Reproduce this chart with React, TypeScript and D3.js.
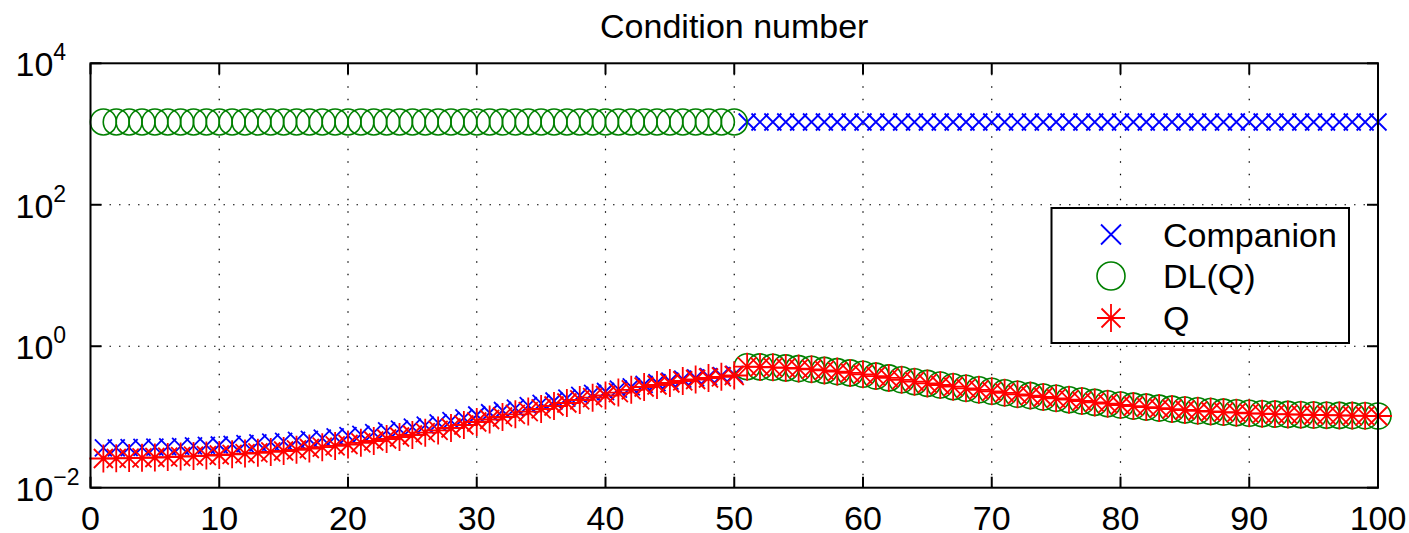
import React from 'react';
import * as d3 from 'd3';

// ---------- data ----------
const title = 'Condition number';
const seriesNames = ['Companion', 'DL(Q)', 'Q'];
const xTicks = [0, 10, 20, 30, 40, 50, 60, 70, 80, 90, 100];
const yTicks = [1e-2, 1e0, 1e2, 1e4];
const yTickExponents = ['\u22122', '0', '2', '4'];

// Companion condition number (k = 1..100)
const companion = [
  0.03644, 0.03668, 0.0369, 0.03706, 0.03742, 0.03776, 0.03839, 0.03888, 0.03952, 0.04015,
  0.04108, 0.04187, 0.04297, 0.0441, 0.04525, 0.0467, 0.04837, 0.05028, 0.05225, 0.05428,
  0.05693, 0.06015, 0.0637, 0.06756, 0.07172, 0.07668, 0.08233, 0.08867, 0.09702, 0.1066,
  0.1147, 0.1234, 0.1336, 0.1447, 0.1556, 0.1682, 0.1844, 0.2016, 0.2154, 0.2291,
  0.2476, 0.2663, 0.2891, 0.3057, 0.3223, 0.342, 0.3556, 0.3716, 0.3845, 0.3984,
  1480, 1480, 1480, 1480, 1480, 1480, 1480, 1480, 1480, 1480,
  1480, 1480, 1480, 1480, 1480, 1480, 1480, 1480, 1480, 1480,
  1480, 1480, 1480, 1480, 1480, 1480, 1480, 1480, 1480, 1480,
  1480, 1480, 1480, 1480, 1480, 1480, 1480, 1480, 1480, 1480,
  1480, 1480, 1480, 1480, 1480, 1480, 1480, 1480, 1480, 1480,
];

// DL(Q) condition number (k = 1..100)
const dlq = [
  1480, 1480, 1480, 1480, 1480, 1480, 1480, 1480, 1480, 1480,
  1480, 1480, 1480, 1480, 1480, 1480, 1480, 1480, 1480, 1480,
  1480, 1480, 1480, 1480, 1480, 1480, 1480, 1480, 1480, 1480,
  1480, 1480, 1480, 1480, 1480, 1480, 1480, 1480, 1480, 1480,
  1480, 1480, 1480, 1480, 1480, 1480, 1480, 1480, 1480, 1480,
  0.5137, 0.5104, 0.5039, 0.4941, 0.483, 0.4721, 0.4554, 0.4381, 0.4199, 0.4012,
  0.3783, 0.3567, 0.3352, 0.3152, 0.2982, 0.2831, 0.2679, 0.2542, 0.2421, 0.2306,
  0.2196, 0.2091, 0.2004, 0.1915, 0.1837, 0.1754, 0.1681, 0.1607, 0.154, 0.1476,
  0.1424, 0.1379, 0.1335, 0.1292, 0.1255, 0.1223, 0.1195, 0.1172, 0.1149, 0.1127,
  0.1112, 0.1098, 0.1087, 0.1077, 0.1066, 0.1059, 0.1052, 0.1046, 0.1039, 0.1032,
];

// Q condition number (k = 1..100)
const q = [
  0.02588, 0.02605, 0.02621, 0.02647, 0.02673, 0.02707, 0.02752, 0.02797, 0.02843, 0.02899,
  0.02966, 0.03034, 0.03114, 0.03207, 0.03303, 0.03434, 0.03583, 0.03738, 0.03899, 0.04081,
  0.04313, 0.04574, 0.04881, 0.05209, 0.0556, 0.05991, 0.06457, 0.06982, 0.077, 0.0849,
  0.0921, 0.09991, 0.1091, 0.1191, 0.1297, 0.1429, 0.1576, 0.1738, 0.1873, 0.2011,
  0.2211, 0.2421, 0.2652, 0.2831, 0.3021, 0.3226, 0.3387, 0.3556, 0.3697, 0.3857,
  0.5137, 0.5104, 0.5039, 0.4941, 0.483, 0.4721, 0.4554, 0.4381, 0.4199, 0.4012,
  0.3783, 0.3567, 0.3352, 0.3152, 0.2982, 0.2831, 0.2679, 0.2542, 0.2421, 0.2306,
  0.2196, 0.2091, 0.2004, 0.1915, 0.1837, 0.1754, 0.1681, 0.1607, 0.154, 0.1476,
  0.1424, 0.1379, 0.1335, 0.1292, 0.1255, 0.1223, 0.1195, 0.1172, 0.1149, 0.1127,
  0.1112, 0.1098, 0.1087, 0.1077, 0.1066, 0.1059, 0.1052, 0.1046, 0.1039, 0.1032,
];

// ---------- layout ----------
const W = 1409;
const H = 533;
const M = { left: 90.5, right: 1378, top: 63.3, bottom: 487.7 };
const FONT = '"Liberation Sans", Arial, Helvetica, sans-serif';
const FS = 34;
const BLUE = '#0000ff';
const GREEN = '#008000';
const RED = '#ff0000';

const xScale = d3.scaleLinear().domain([0, 100]).range([M.left, M.right]);
const yScale = d3.scaleLog().domain([1e-2, 1e4]).range([M.bottom, M.top]);

const XS = 8.5; // half-size of x marker
const CR = 13; // circle radius
const SP = 14; // star plus arm
const SD = 9.5; // star diagonal arm

function xPath(x: number, y: number, s = XS) {
  return `M${x - s},${y - s}L${x + s},${y + s}M${x - s},${y + s}L${x + s},${y - s}`;
}
function starPath(x: number, y: number) {
  return (
    `M${x - SP},${y}L${x + SP},${y}M${x},${y - SP}L${x},${y + SP}` +
    `M${x - SD},${y - SD}L${x + SD},${y + SD}M${x - SD},${y + SD}L${x + SD},${y - SD}`
  );
}

export default function App() {
  const idx = d3.range(1, companion.length + 1);
  const legend = { x0: 1051.5, y0: 208, x1: 1349, y1: 343 };
  const legendRows = [234.5, 276, 318];
  const legendMarkerX = 1111;
  const legendTextX = 1163;

  return (
    <svg
      width={W}
      height={H}
      style={{ position: 'absolute', left: 0, top: 0, background: '#fff' }}
      fontFamily={FONT}
    >
      <rect x={0} y={0} width={W} height={H} fill="#fff" />
      {/* grid */}
      <g stroke="#000" strokeWidth={1.2} fill="none">
        {xTicks.slice(1, -1).map((t) => (
          <line
            key={'gx' + t}
            x1={xScale(t)}
            x2={xScale(t)}
            y1={M.bottom}
            y2={M.top}
            strokeDasharray="1.5 11"
          />
        ))}
        {yTicks.slice(1, -1).map((t) => (
          <line
            key={'gy' + t}
            x1={M.left}
            x2={M.right}
            y1={yScale(t)}
            y2={yScale(t)}
            strokeDasharray="1.5 8"
          />
        ))}
      </g>

      {/* data: Companion (x) */}
      <g stroke={BLUE} strokeWidth={1.8} fill="none">
        {companion.map((v, i) => (
          <path key={'c' + i} d={xPath(xScale(idx[i]), yScale(v))} />
        ))}
      </g>
      {/* DL(Q) (o) */}
      <g stroke={GREEN} strokeWidth={1.6} fill="none">
        {dlq.map((v, i) => (
          <circle key={'d' + i} cx={xScale(idx[i])} cy={yScale(v)} r={CR} />
        ))}
      </g>
      {/* Q (*) */}
      <g stroke={RED} strokeWidth={1.8} fill="none">
        {q.map((v, i) => (
          <path key={'q' + i} d={starPath(xScale(idx[i]), yScale(v))} />
        ))}
      </g>

      {/* axes box */}
      <rect
        x={M.left}
        y={M.top}
        width={M.right - M.left}
        height={M.bottom - M.top}
        fill="none"
        stroke="#000"
        strokeWidth={2}
      />
      {/* ticks */}
      <g stroke="#000" strokeWidth={2}>
        {xTicks.map((t) => (
          <g key={'tx' + t}>
            <line x1={xScale(t)} x2={xScale(t)} y1={M.bottom} y2={M.bottom - 11} />
            <line x1={xScale(t)} x2={xScale(t)} y1={M.top} y2={M.top + 11} />
          </g>
        ))}
        {yTicks.map((t) => (
          <g key={'ty' + t}>
            <line x1={M.left} x2={M.left + 11} y1={yScale(t)} y2={yScale(t)} />
            <line x1={M.right} x2={M.right - 11} y1={yScale(t)} y2={yScale(t)} />
          </g>
        ))}
      </g>
      {/* tick labels */}
      <g fill="#000" fontSize={FS}>
        {xTicks.map((t) => (
          <text key={'lx' + t} x={xScale(t)} y={530} textAnchor="middle">
            {t}
          </text>
        ))}
        {yTicks.map((t, i) => (
          <text key={'ly' + t} x={15.5} y={yScale(t) + 13}>
            10
            <tspan fontSize={23} dy={-16}>
              {yTickExponents[i]}
            </tspan>
          </text>
        ))}
      </g>
      {/* title */}
      <text x={(M.left + M.right) / 2} y={38} textAnchor="middle" fontSize={FS} fill="#000">
        {title}
      </text>

      {/* legend */}
      <rect
        x={legend.x0}
        y={legend.y0}
        width={legend.x1 - legend.x0}
        height={legend.y1 - legend.y0}
        fill="#fff"
        stroke="#000"
        strokeWidth={2}
      />
      <path d={xPath(legendMarkerX, legendRows[0], 10)} stroke={BLUE} strokeWidth={1.8} fill="none" />
      <circle cx={legendMarkerX} cy={legendRows[1]} r={14} stroke={GREEN} strokeWidth={1.6} fill="none" />
      <path d={starPath(legendMarkerX, legendRows[2])} stroke={RED} strokeWidth={1.8} fill="none" />
      {seriesNames.map((n, i) => (
        <text key={n} x={legendTextX} y={legendRows[i] + 12} fontSize={FS} fill="#000">
          {n}
        </text>
      ))}
    </svg>
  );
}
